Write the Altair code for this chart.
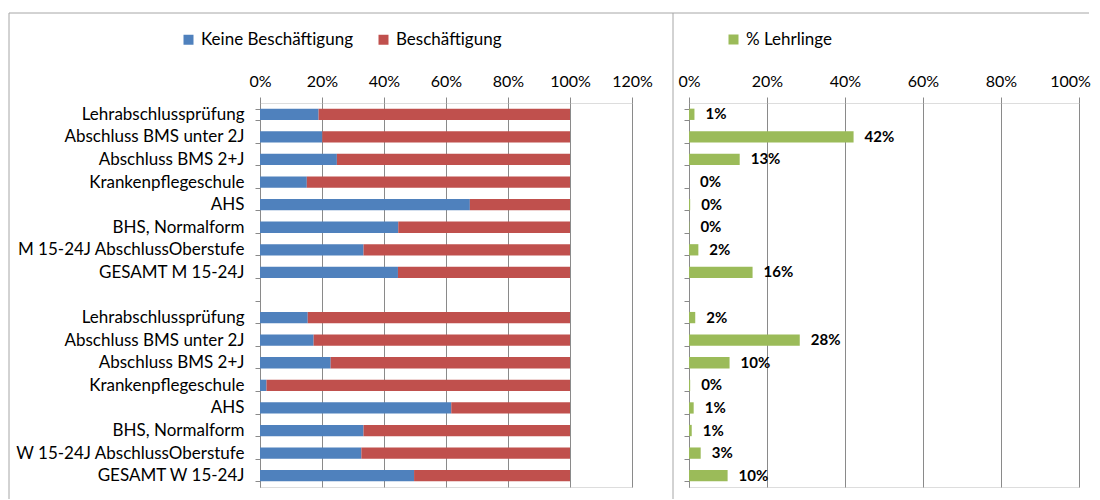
import json
import altair as alt
import pandas as pd

# ---------------- data ----------------
categories = [
    "Lehrabschlussprüfung", "Abschluss BMS unter 2J\u00a0", "Abschluss BMS 2+J",
    "Krankenpflegeschule", "AHS", "BHS, Normalform", "M 15-24J AbschlussOberstufe",
    "GESAMT M 15-24J", "",
    "Lehrabschlussprüfung", "Abschluss BMS unter 2J\u00a0", "Abschluss BMS 2+J",
    "Krankenpflegeschule", "AHS", "BHS, Normalform", "W 15-24J AbschlussOberstufe",
    "GESAMT W 15-24J",
]
rows = [0, 1, 2, 3, 4, 5, 6, 7, 9, 10, 11, 12, 13, 14, 15, 16]

keine_beschaeftigung = [0.189, 0.201, 0.248, 0.151, 0.677, 0.446, 0.334, 0.445,
                        0.154, 0.173, 0.228, 0.021, 0.617, 0.334, 0.327, 0.497]
beschaeftigung = [0.811, 0.799, 0.752, 0.849, 0.323, 0.554, 0.666, 0.555,
                  0.846, 0.827, 0.772, 0.979, 0.383, 0.666, 0.673, 0.503]
lehrlinge = [0.014, 0.422, 0.130, 0.000, 0.003, 0.001, 0.024, 0.163,
             0.016, 0.284, 0.104, 0.003, 0.012, 0.007, 0.030, 0.099]

left_ticks = [0, 0.2, 0.4, 0.6, 0.8, 1.0, 1.2]
right_ticks = [0, 0.2, 0.4, 0.6, 0.8, 1.0]

series_names = ["Keine Beschäftigung", "Beschäftigung"]
series_colors = ["#4F81BD", "#C0504D"]
green = "#9BBB59"

# ---------------- tables ----------------
left_df = pd.DataFrame(
    [{"row": r, "series": series_names[0], "ord": 0, "value": v} for r, v in zip(rows, keine_beschaeftigung)]
    + [{"row": r, "series": series_names[1], "ord": 1, "value": v} for r, v in zip(rows, beschaeftigung)]
)
right_df = pd.DataFrame({"row": rows, "series": "% Lehrlinge", "value": lehrlinge})

FONT = "Lato"
FS = 17
GRID = "#8a8a8a"
FRAME = "#a6a6a6"
W_L, W_R, H = 372, 390, 384

label_expr = json.dumps(categories) + "[datum.value]"
y_scale = alt.Scale(domain=list(range(len(categories))), paddingInner=0.5, paddingOuter=0.25)


def y_enc(show_labels):
    return alt.Y(
        "row:O", scale=y_scale,
        axis=alt.Axis(
            title=None, labels=show_labels, labelExpr=label_expr, tickBand="extent",
            domainColor=GRID, tickColor=GRID, tickSize=5, labelPadding=11,
            labelFontSize=FS, labelFont=FONT, labelColor="#000000", grid=False,
            labelLimit=400, labelOverlap=False,
        ),
    )


def frame(x, x2, y, y2):
    return alt.Chart(pd.DataFrame({"k": [0]})).mark_rule(color=FRAME, strokeWidth=1).encode(
        x=alt.value(x), x2=alt.value(x2), y=alt.value(y), y2=alt.value(y2)
    )


x_axis_common = dict(
    title=None, orient="top", format=".0%", grid=True, gridColor=GRID, domain=False,
    tickColor=GRID, tickSize=6, labelPadding=8, labelFontSize=16, labelFont=FONT,
    labelColor="#000000", labelOverlap=False, labelFlush=False,
)

legend_common = dict(
    title=None, orient="none", legendY=-72, direction="horizontal", symbolType="square",
    symbolSize=100, symbolStrokeWidth=0, labelFontSize=FS, labelFont=FONT,
    labelColor="#000000", labelOffset=4, labelLimit=400,
)

left_bars = alt.Chart(left_df).mark_bar().encode(
    x=alt.X("value:Q", stack="zero",
            scale=alt.Scale(domain=[0, 1.2], nice=False),
            axis=alt.Axis(values=left_ticks, **x_axis_common)),
    y=y_enc(True),
    color=alt.Color("series:N",
                    scale=alt.Scale(domain=series_names, range=series_colors),
                    legend=alt.Legend(legendX=-80, columnPadding=22, **legend_common)),
    order=alt.Order("ord:Q"),
)

left = alt.layer(
    left_bars,
    frame(-251, 413, -90, -90),
    frame(-251, -251, -90, 396),
).properties(width=W_L, height=H)

right_bars = alt.Chart(right_df).mark_bar().encode(
    x=alt.X("value:Q", scale=alt.Scale(domain=[0, 1], nice=False),
            axis=alt.Axis(values=right_ticks,
                          labelOffset={"condition": {"test": "datum.value == 1", "value": -9},
                                       "value": 0},
                          **x_axis_common)),
    y=y_enc(False),
    color=alt.Color("series:N", scale=alt.Scale(domain=["% Lehrlinge"], range=[green]),
                    legend=alt.Legend(legendX=36, **legend_common)),
)

right_text = alt.Chart(right_df).mark_text(
    align="left", baseline="middle", dx=11, fontWeight="bold", fontSize=15, font=FONT,
    color="#000000",
).encode(
    x=alt.X("value:Q"),
    y=alt.Y("row:O", scale=y_scale),
    text=alt.Text("value:Q", format=".0%"),
)

right = alt.layer(
    right_bars, right_text,
    frame(-16, 400, -90, -90),
    frame(-16, -16, -90, 396),
).properties(width=W_R, height=H)

chart = alt.hconcat(left, right, spacing=57, bounds="flush").resolve_scale(
    x="independent", color="independent"
).resolve_legend(color="independent").properties(
    padding={"left": 0, "top": 4, "right": 0, "bottom": 0}
).configure_view(stroke=None).configure(background="white")

chart.save("out.html", embed_options={"renderer": "svg", "actions": False})
